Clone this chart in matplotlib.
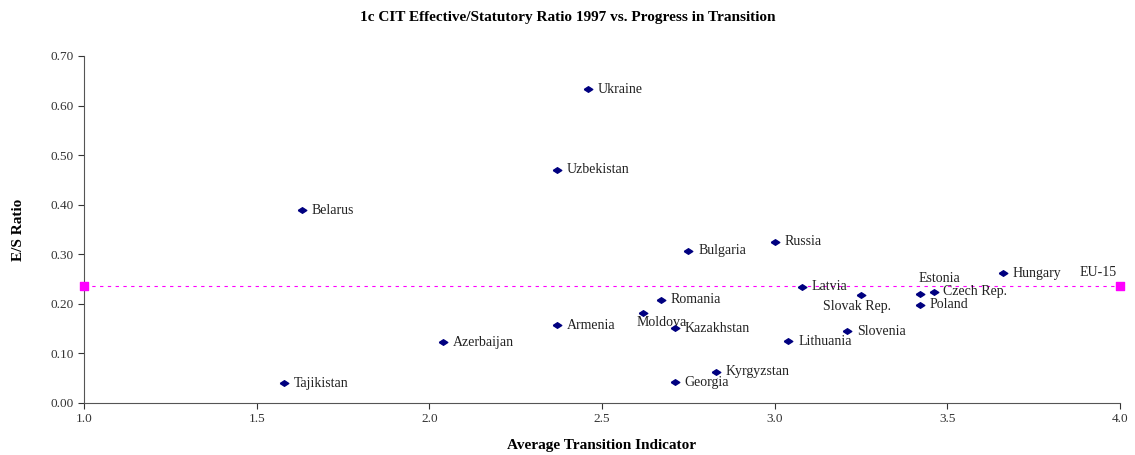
import matplotlib
matplotlib.use('Agg')
import matplotlib.pyplot as plt
from matplotlib.ticker import MultipleLocator, FormatStrFormatter

plt.rcParams['font.family'] = ['Liberation Serif', 'DejaVu Serif']

# data
countries = ['Ukraine', 'Uzbekistan', 'Belarus', 'Bulgaria', 'Russia', 'Latvia',
             'Slovak Rep.', 'Estonia', 'Czech Rep.', 'Poland', 'Hungary', 'Romania',
             'Moldova', 'Kazakhstan', 'Armenia', 'Azerbaijan', 'Tajikistan',
             'Slovenia', 'Lithuania', 'Kyrgyzstan', 'Georgia']
transition = [2.46, 2.37, 1.63, 2.75, 3.00, 3.08, 3.25, 3.42, 3.46, 3.42, 3.66,
              2.67, 2.62, 2.71, 2.37, 2.04, 1.58, 3.21, 3.04, 2.83, 2.71]
es_ratio = [0.633, 0.470, 0.389, 0.307, 0.325, 0.234, 0.218, 0.220, 0.224, 0.198,
            0.262, 0.208, 0.182, 0.151, 0.157, 0.123, 0.040, 0.145, 0.125, 0.063, 0.042]
eu15_x = [1.0, 4.0]
eu15_y = [0.236, 0.236]

# label offsets in points (default: right of marker)
offsets = {'Slovak Rep.': (-3, -8, 'center'), 'Estonia': (-1, 11, 'left'),
           'Moldova': (-5, -7, 'left')}

fig = plt.figure(figsize=(11.35, 4.55), dpi=100)
ax = fig.add_axes([0.074, 0.1143, 0.9128, 0.7627])

diamond = [(-1, 0), (0, 0.65), (1, 0), (0, -0.65), (-1, 0)]
ax.scatter(transition, es_ratio, marker=diamond, s=38, color='#000080', zorder=3)

ax.plot(eu15_x, eu15_y, linestyle=(0, (3, 4)), color='#ff00ff', lw=0.8)
ax.scatter(eu15_x, eu15_y, marker='s', s=40, color='#ff00ff', zorder=4, clip_on=False)

for name, x, y in zip(countries, transition, es_ratio):
    dx, dy, ha = offsets.get(name, (7, 0, 'left'))
    ax.annotate(name, (x, y), xytext=(dx, dy), textcoords='offset points',
                ha=ha, va='center', fontsize=10, color='#222222')
ax.annotate('EU-15', (4.0, 0.236), xytext=(-16, 10), textcoords='offset points',
            ha='center', va='center', fontsize=10, color='#222222',
            annotation_clip=False)

ax.set_xlim(1.0, 4.0)
ax.set_ylim(0.0, 0.70)
ax.xaxis.set_major_locator(MultipleLocator(0.5))
ax.yaxis.set_major_locator(MultipleLocator(0.1))
ax.xaxis.set_major_formatter(FormatStrFormatter('%.1f'))
ax.yaxis.set_major_formatter(FormatStrFormatter('%.2f'))
ax.tick_params(labelsize=9.5, colors='#333333', length=4, width=0.8)
for s in ['top', 'right']:
    ax.spines[s].set_visible(False)
for s in ['left', 'bottom']:
    ax.spines[s].set_color('#555555')

ax.set_xlabel('Average Transition Indicator', fontsize=11, fontweight='bold', labelpad=10)
ax.set_ylabel('E/S Ratio', fontsize=11, fontweight='bold', labelpad=18)
fig.suptitle('1c CIT Effective/Statutory Ratio 1997 vs. Progress in Transition',
             fontsize=11, fontweight='bold', y=0.975)

fig.savefig('out.png', dpi=100, facecolor='white')
